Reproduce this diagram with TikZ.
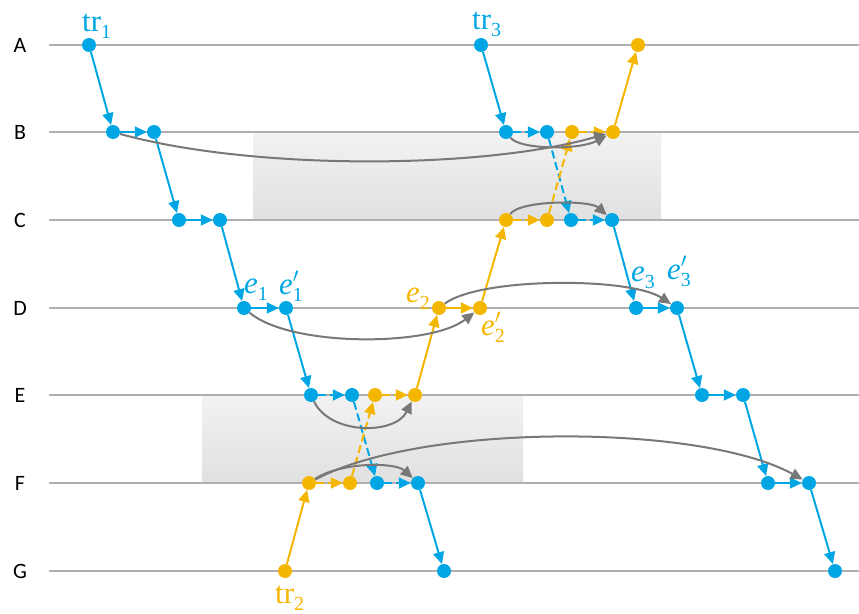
\documentclass[tikz,border=0pt]{standalone}
\usepackage{fontspec}
\newfontfamily\rowfont{Carlito}
\newfontfamily\trfont{Liberation Serif}
\usetikzlibrary{arrows.meta}
\definecolor{cblue}{RGB}{0,166,228}
\definecolor{cyel}{RGB}{245,182,0}
\definecolor{cgray}{RGB}{120,120,120}
\definecolor{cline}{RGB}{175,175,175}
\newcommand{\subsz}{\fontsize{20}{20}\selectfont\upshape}
\newcommand{\trl}[1]{tr\raisebox{-7bp}{\subsz #1}}
\newcommand{\evl}[1]{{\itshape e}\raisebox{-7bp}{\subsz #1}}
\newcommand{\evp}[1]{{\itshape e}\makebox[0pt][l]{\raisebox{12bp}{\fontsize{22}{22}\selectfont$\prime$}}\raisebox{-7bp}{\subsz #1}}
\begin{document}
\begin{tikzpicture}[x=1bp,y=-1bp,
  bdot/.style={circle,fill=cblue,inner sep=0pt,minimum size=14bp},
  ydot/.style={circle,fill=cyel,inner sep=0pt,minimum size=14bp},
  tip/.style={-{Triangle[length=12bp,width=11bp]}},
  barr/.style={tip,draw=cblue,line width=2bp},
  yarr/.style={tip,draw=cyel,line width=2bp},
  garr/.style={tip,draw=cgray,line width=2bp},
  dsh/.style={dash pattern=on 8bp off 4bp},
  rowlbl/.style={font=\rowfont\fontsize{22}{22}\selectfont,anchor=center},
  lbl/.style={font=\trfont\fontsize{31}{31}\selectfont,inner sep=0pt,anchor=base west},
  box/.style={top color=black!5,bottom color=black!12}
]
\useasboundingbox (0,0) rectangle (859,614);
% shaded boxes
\shade[box] (253,132) rectangle (661,220);
\shade[box] (202,395) rectangle (523,483);
% row lines and labels
\foreach \r/\yy in {A/45,B/132,C/220,D/308,E/395,F/483,G/571}{
  \draw[cline,line width=1.2bp] (49,\yy) -- (859,\yy);
  \node[rowlbl] (row\r) at (20,\yy) {\r};
}
% blue transaction tr1
\node[bdot] (a1) at (89,45) {};
\node[bdot] (b1) at (113,132) {};
\node[bdot] (b2) at (154,132) {};
\node[bdot] (c1) at (179,220) {};
\node[bdot] (c2) at (220,220) {};
\node[bdot] (d1) at (244,308) {};
\node[bdot] (d2) at (286,308) {};
\node[bdot] (e1) at (311,395) {};
\node[bdot] (e2) at (352,395) {};
\node[bdot] (f3) at (377,483) {};
\node[bdot] (f4) at (418,483) {};
\node[bdot] (g1) at (444,571) {};
% blue transaction tr3
\node[bdot] (a2) at (481,45) {};
\node[bdot] (b3) at (506,132) {};
\node[bdot] (b4) at (547,132) {};
\node[bdot] (c5) at (571,220) {};
\node[bdot] (c6) at (612,220) {};
\node[bdot] (d5) at (636,308) {};
\node[bdot] (d6) at (677,308) {};
\node[bdot] (e5) at (702,395) {};
\node[bdot] (e6) at (743,395) {};
\node[bdot] (f5) at (768,483) {};
\node[bdot] (f6) at (809,483) {};
\node[bdot] (g3) at (835,571) {};
% yellow transaction tr2
\node[ydot] (g2) at (285,571) {};
\node[ydot] (f1) at (309,483) {};
\node[ydot] (f2) at (350,483) {};
\node[ydot] (e3) at (375,395) {};
\node[ydot] (e4) at (415,395) {};
\node[ydot] (d3) at (439,308) {};
\node[ydot] (d4) at (480,308) {};
\node[ydot] (c3) at (506,220) {};
\node[ydot] (c4) at (547,220) {};
\node[ydot] (b5) at (572,132) {};
\node[ydot] (b6) at (613,132) {};
\node[ydot] (a3) at (638,45) {};
% blue arrows tr1
\draw[barr] (a1) -- (b1);
\draw[barr] (b1) -- (b2);
\draw[barr] (b2) -- (c1);
\draw[barr] (c1) -- (c2);
\draw[barr] (c2) -- (d1);
\draw[barr] (d1) -- (d2);
\draw[barr] (d2) -- (e1);
\draw[barr,dsh] (e1) -- (e2);
\draw[barr,dsh] (e2) -- (f3);
\draw[barr,dsh] (f3) -- (f4);
\draw[barr] (f4) -- (g1);
% blue arrows tr3
\draw[barr] (a2) -- (b3);
\draw[barr,dsh] (b3) -- (b4);
\draw[barr,dsh] (b4) -- (c5);
\draw[barr,dsh] (c5) -- (c6);
\draw[barr] (c6) -- (d5);
\draw[barr] (d5) -- (d6);
\draw[barr] (d6) -- (e5);
\draw[barr] (e5) -- (e6);
\draw[barr] (e6) -- (f5);
\draw[barr] (f5) -- (f6);
\draw[barr] (f6) -- (g3);
% yellow arrows tr2
\draw[yarr] (g2) -- (f1);
\draw[yarr,dsh] (f1) -- (f2);
\draw[yarr,dsh] (f2) -- (e3);
\draw[yarr,dsh] (e3) -- (e4);
\draw[yarr] (e4) -- (d3);
\draw[yarr] (d3) -- (d4);
\draw[yarr] (d4) -- (c3);
\draw[yarr,dsh] (c3) -- (c4);
\draw[yarr,dsh] (c4) -- (b5);
\draw[yarr,dsh] (b5) -- (b6);
\draw[yarr] (b6) -- (a3);
% gray dependency arrows
\draw[garr] (b1) .. controls (250,170) and (480,170) .. (b6);
\draw[garr] (b3) .. controls (520,150) and (580,150) .. (b6);
\draw[garr] (c3) .. controls (520,200) and (590,200) .. (c6);
\draw[garr] (d1) .. controls (290,347) and (430,347) .. (d4);
\draw[garr] (d3) .. controls (480,277) and (630,277) .. (d6);
\draw[garr] (e1) .. controls (330,435) and (395,435) .. (e4);
\draw[garr] (f1) .. controls (340,462) and (395,462) .. (f4);
\draw[garr] (f1) .. controls (420,423) and (700,423) .. (f6);
% labels
\node[lbl,text=cblue] (ltr1) at (82,32) {\trl{1}};
\node[lbl,text=cblue] (ltr3) at (472,30) {\trl{3}};
\node[lbl,text=cyel] (ltr2) at (275,603) {\trl{2}};
\node[lbl,text=cblue] (le1) at (244,293) {\evl{1}};
\node[lbl,text=cblue] (le1p) at (279,294) {\evp{1}};
\node[lbl,text=cyel] (le2) at (406,302) {\evl{2}};
\node[lbl,text=cyel] (le2p) at (481,335) {\evp{2}};
\node[lbl,text=cblue] (le3) at (631,281) {\evl{3}};
\node[lbl,text=cblue] (le3p) at (667,279) {\evp{3}};
\end{tikzpicture}
\end{document}
